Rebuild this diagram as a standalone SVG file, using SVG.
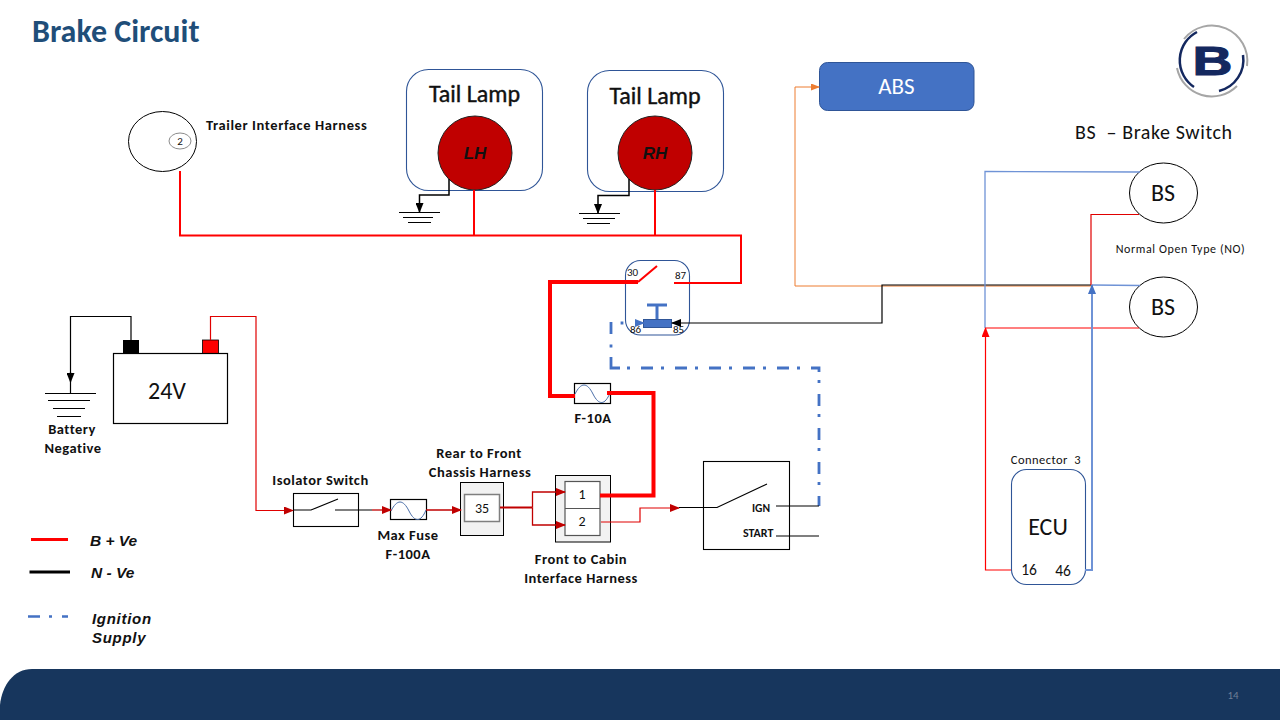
<svg xmlns="http://www.w3.org/2000/svg" width="1280" height="720" viewBox="0 0 1280 720">
<style>
text{font-family:Carlito,Lato,"Open Sans","Liberation Sans",sans-serif;fill:#111;white-space:pre}
.b{font-weight:700;font-size:14.5px;letter-spacing:.5px;text-anchor:middle}
.c{text-anchor:middle}
.i{font-family:"Liberation Sans",Arial,sans-serif;font-weight:700;font-style:italic;font-size:15.5px}
.w{fill:none;stroke-linejoin:miter}
.r1{stroke:#e00000;stroke-width:1.2}
.dr{stroke:#c00000;stroke-width:1.3}
.r2{stroke:#ff0000;stroke-width:2}
.r4{stroke:#ff0000;stroke-width:4}
.k{stroke:#000;stroke-width:1.2}
.bl{stroke:#6f93d6;stroke-width:1.3}
.g{fill:none;stroke:#000;stroke-width:1.2}
.box{fill:#fff;stroke:#000;stroke-width:1.2}
.nav{fill:#fff;stroke:#2f5597;stroke-width:1.1}
.p{fill:#fff;stroke:#000;stroke-width:1}
.lamp{fill:#c00000;stroke:#222;stroke-width:1}
.sh{fill:#f2f2f2;stroke:#000;stroke-width:1}
</style>
<defs>
<marker id="aDR" markerWidth="10" markerHeight="8" refX="9" refY="4" orient="auto" markerUnits="userSpaceOnUse"><path d="M0 0L10 4L0 8Z" fill="#c00000"/></marker>
<marker id="aK" markerWidth="10" markerHeight="8" refX="9" refY="4" orient="auto" markerUnits="userSpaceOnUse"><path d="M0 0L10 4L0 8Z" fill="#000"/></marker>
<marker id="aB" markerWidth="10" markerHeight="8" refX="9" refY="4" orient="auto" markerUnits="userSpaceOnUse"><path d="M0 0L10 4L0 8Z" fill="#4472c4"/></marker>
<marker id="aR" markerWidth="10" markerHeight="8" refX="9" refY="4" orient="auto" markerUnits="userSpaceOnUse"><path d="M0 0L10 4L0 8Z" fill="#ff0000"/></marker>
<marker id="aO" markerWidth="9" markerHeight="7" refX="8" refY="3.5" orient="auto" markerUnits="userSpaceOnUse"><path d="M0 0L9 3.5L0 7Z" fill="#ed7d31"/></marker>
</defs>
<rect width="1280" height="720" fill="#fff"/>

<g id="title"><text x="32" y="42" style="font-size:32px;font-weight:700;fill:#1f4e79">Brake Circuit</text></g>

<g id="logo">
<path d="M1184 39A35.500 35.500 0 0 1 1247 66" fill="none" stroke="#a6a6a6" stroke-width="2"/>
<path d="M1177 68A35.500 35.500 0 0 0 1237 86" fill="none" stroke="#a6a6a6" stroke-width="2"/>
<path d="M1197 32A32 32 0 0 0 1194 87" fill="none" stroke="#14285f" stroke-width="2.500"/>
<path d="M1243 55A32 32 0 0 1 1219 91" fill="none" stroke="#14285f" stroke-width="2.500"/>
<text x="0" y="75" text-anchor="middle" style="font-family:'Liberation Sans',sans-serif;font-weight:700;font-size:41px;fill:#14285f;stroke:#14285f;stroke-width:1" transform="translate(1212.500 0) scale(1.35 1)">B</text>
</g>

<g id="trailer-harness"><ellipse class="p" cx="162.500" cy="141.500" rx="34" ry="30"/><ellipse cx="180" cy="141" rx="11" ry="8" fill="#fff" stroke="#8c8c8c"/><text x="180" y="145" class="c" style="font-size:11px">2</text><text x="206" y="129.500" class="b" style="text-anchor:start;letter-spacing:.6px">Trailer Interface Harness</text></g>

<g id="tail-lamp-lh"><rect class="nav" x="406.500" y="69.500" width="136" height="121" rx="22"/><circle class="lamp" cx="475" cy="153" r="37"/><text x="474.500" y="102" class="c" style="font-size:24px;stroke:#111;stroke-width:.4">Tail Lamp</text><text x="475" y="159" class="i c" style="font-size:17px">LH</text></g>
<g id="tail-lamp-rh"><rect class="nav" x="587.500" y="70.500" width="136" height="121" rx="22"/><circle class="lamp" cx="655" cy="153" r="37"/><text x="655" y="104" class="c" style="font-size:24px;stroke:#111;stroke-width:.4">Tail Lamp</text><text x="655" y="159" class="i c" style="font-size:17px">RH</text></g>

<g id="ground-lh"><path class="g" d="M399 212.500H440M403 217.500H433M408 222.500H431"/></g>
<g id="ground-rh"><path class="g" d="M579 213.500H620M583 218.500H615M587 223.500H610"/></g>

<g id="abs"><rect x="819.500" y="62.500" width="154.500" height="48" rx="8" fill="#4472c4" stroke="#2f5597"/><text x="896.500" y="94" class="c" style="font-size:23px;fill:#fff">ABS</text></g>

<g id="legend-bs"><text x="1075" y="139" style="font-size:20px;letter-spacing:.6px">BS  – Brake Switch</text><text x="1180.500" y="253" class="c" style="font-size:12px;letter-spacing:.6px">Normal Open Type (NO)</text></g>
<g id="bs-1"><ellipse class="p" cx="1163.500" cy="193" rx="34" ry="30"/><text x="1163" y="201" class="c" style="font-size:24px">BS</text></g>
<g id="bs-2"><ellipse class="p" cx="1163.500" cy="307" rx="34" ry="30"/><text x="1163" y="315" class="c" style="font-size:24px">BS</text></g>

<g id="relay">
<rect x="625.500" y="260.500" width="64" height="74.500" rx="15" fill="none" stroke="#2f5597" stroke-width="1.100"/>
<path d="M647 305H667" stroke="#4472c4" stroke-width="3"/><path d="M657 305V320" stroke="#4472c4" stroke-width="3"/>
<rect x="643.500" y="319.500" width="28" height="8" fill="#4472c4" stroke="#2f5597"/>
<text x="627" y="276" style="font-size:11px">30</text><text x="675" y="279" style="font-size:11px">87</text><text x="630" y="333" style="font-size:11px">86</text><text x="673" y="333" style="font-size:11px">85</text>
</g>

<g id="fuse-f10a"><rect class="box" x="574.500" y="383.500" width="36" height="20"/><path d="M575 394C581 382 587 382 593 394S605 405 610 393" fill="none" stroke="#4a6ea8"/><text x="593" y="423" class="b">F-10A</text></g>

<g id="battery">
<rect x="123" y="340" width="16" height="13.500" fill="#000"/><rect x="202.500" y="340" width="16" height="13.500" fill="#ff0000" stroke="#000" stroke-width="0.800"/>
<rect class="box" x="113.500" y="353.500" width="114" height="70"/><text x="167" y="399" class="c" style="font-size:24px">24V</text></g>
<g id="battery-negative"><path class="g" d="M45 393.500H96M48 400.500H90M53 408.500H85M57 416.500H81"/><text x="72" y="434" class="b">Battery</text><text x="73" y="453" class="b">Negative</text></g>

<g id="isolator-switch"><rect x="293.500" y="493.500" width="65" height="33" fill="none" stroke="#000" stroke-width="1.100"/><text x="320.500" y="485" class="b">Isolator Switch</text></g>
<g id="fuse-f100a"><rect class="box" x="390.500" y="499.500" width="36" height="20"/><path d="M391 511C397 499 403 499 409 511S421 522 426 510" fill="none" stroke="#4a6ea8"/><text x="408" y="540" class="b">Max Fuse</text><text x="408" y="559" class="b">F-100A</text></g>
<g id="chassis-harness"><rect class="sh" x="460.500" y="482.500" width="43" height="53"/><rect x="464.500" y="494.500" width="35" height="27" fill="#fff" stroke="#7f7f7f" stroke-width="1.500"/><text x="482" y="513" class="c" style="font-size:14px">35</text><text x="479" y="458" class="b">Rear to Front</text><text x="480" y="477" class="b">Chassis Harness</text></g>
<g id="cabin-harness"><rect class="sh" x="555.500" y="475.500" width="55" height="66.500"/><rect x="565" y="481.500" width="35" height="54" fill="#fff" stroke="#555" stroke-width="1.200"/><path d="M565 508.500H600" stroke="#555" stroke-width="1.200"/><text x="582" y="499" class="c" style="font-size:14px">1</text><text x="582" y="526" class="c" style="font-size:14px">2</text><text x="581" y="564" class="b">Front to Cabin</text><text x="581" y="583" class="b">Interface Harness</text></g>
<g id="ignition-switch"><rect x="703.500" y="461.500" width="86" height="88" fill="none" stroke="#000" stroke-width="1.100"/><text x="752" y="512" style="font-size:11.500px;font-weight:700">IGN</text><text x="743" y="537" style="font-size:12px;font-weight:700">START</text></g>
<g id="ecu"><rect class="nav" x="1011.500" y="469.500" width="74" height="115" rx="15"/><text x="1046" y="464" class="c" style="font-size:12.500px;letter-spacing:.45px">Connector  3</text><text x="1048" y="535" class="c" style="font-size:24px">ECU</text><text x="1029" y="575" class="c" style="font-size:15.500px">16</text><text x="1063" y="576" class="c" style="font-size:15.500px">46</text></g>

<g id="connectors">
<path class="w r2" d="M180 171V235.500H741V283H674"/>
<path class="w r2" d="M474 190V235.500M655 190V235.500"/>
<path class="w k" style="stroke-width:1.500" d="M449 179V195H419.500V212" marker-end="url(#aK)"/>
<path class="w k" style="stroke-width:1.500" d="M629 179V195.500H598V213" marker-end="url(#aK)"/>
<path class="w r4" d="M638 282H550V396H575"/>
<path class="w r2" d="M638 282L657 266"/>
<path class="w r4" d="M607 393H653.500V495.500H600"/>
<path class="w" stroke="#4472c4" stroke-width="2.800" d="M622 321.500V324.500M611 322V334M611 344.500V347.500M611 357V368H620"/>
<path class="w" stroke="#4472c4" stroke-width="2.800" stroke-dasharray="3 11 12 8" d="M627 368H819V506"/>
<path class="w k" d="M819 506H776M819 536H776"/>
<path class="w" stroke="#ed7d31" stroke-width="1" d="M1091 286H795V87H819" marker-end="url(#aO)"/>
<path class="w k" d="M1091 285H882V323H672" marker-end="url(#aK)"/>
<path class="w" stroke="#4472c4" stroke-width="1" d="M635 323H644" marker-end="url(#aB)"/>
<path class="w k" d="M131 340V316.500H70.500V393"/>
<path class="w k" d="M70.500 372V382" marker-end="url(#aK)"/>
<path class="w r1" d="M210.500 340V316.500H256V510.500H293" marker-end="url(#aDR)"/>
<path class="w k" d="M293 510H311L338 499M335 510H372"/>
<path class="w dr" d="M372 510H391" marker-end="url(#aDR)"/>
<path class="w dr" d="M426 510H461" marker-end="url(#aDR)"/>
<path class="w" stroke="#c00000" stroke-width="2" d="M500 507.500H532.500"/>
<path class="w dr" d="M532.500 507.500V492H565" marker-end="url(#aDR)"/>
<path class="w dr" d="M532.500 507.500V525H565" marker-end="url(#aDR)"/>
<path class="w r1" d="M601 522H640V508H679" marker-end="url(#aDR)"/>
<path class="w k" d="M679 507.500H717L767 484"/>
<path class="w bl" d="M1140 172L985 171.500V328"/>
<path class="w r1" d="M1139 214.500H1091V285"/>
<path class="w r1" style="stroke:#ff0000" d="M1139 328H985.500"/>
<path class="w r1" style="stroke:#ff0000" d="M1011 570H985.500V328" marker-end="url(#aR)"/>
<path class="w bl" d="M1140 285.500L1092 285"/>
<path class="w bl" style="stroke-width:2" d="M1085 570H1092V285" marker-end="url(#aB)"/>
</g>

<g id="legend">
<path d="M31 539.500H68" stroke="#ff0000" stroke-width="3"/><text x="90" y="546" class="i">B + Ve</text>
<path d="M29.500 572H70" stroke="#000" stroke-width="3"/><text x="91" y="578" class="i">N - Ve</text>
<path d="M28 616.500H40M49 616.500H52M62 616.500H68" stroke="#4472c4" stroke-width="2.500" fill="none"/><text x="92" y="624" class="i" style="font-size:15px;letter-spacing:.7px">Ignition</text><text x="92" y="643" class="i" style="font-size:15px;letter-spacing:.7px">Supply</text>
</g>

<g id="footer"><path d="M0 720V705C2 685 14 669 32 669H1280V720Z" fill="#17365d"/><text x="1233" y="699" class="c" style="font-size:11px;fill:#6e7f95">14</text></g>
</svg>
